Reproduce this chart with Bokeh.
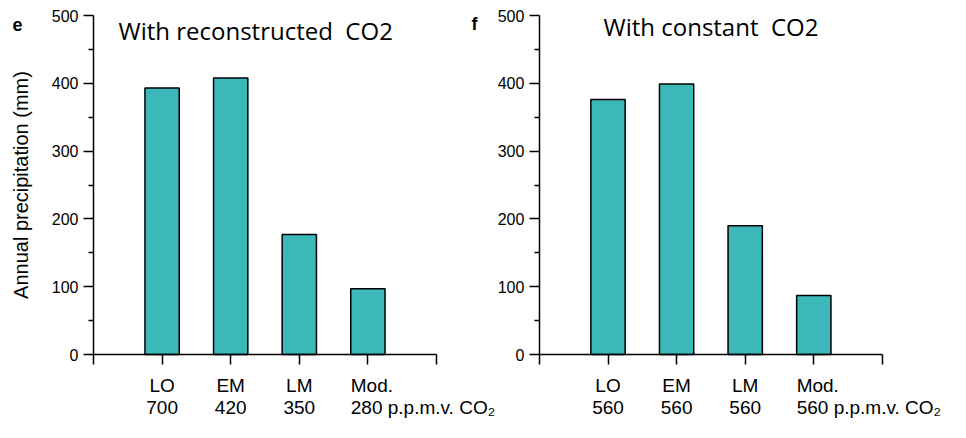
import math
from bokeh.plotting import figure
from bokeh.models import ColumnDataSource, Range1d, FixedTicker, LinearAxis
from bokeh.embed import file_html
from bokeh.resources import INLINE
from bokeh.core.properties import value

# ---- data ----
periods = ["LO", "EM", "LM", "Mod."]
precip_reconstructed = [393, 408, 177, 97]
precip_constant = [376, 399, 190, 87]
co2_reconstructed = [700, 420, 350, 280]
co2_constant = [560, 560, 560, 560]
co2_unit = "p.p.m.v. CO\u2082"
y_ticks = [0, 100, 200, 300, 400, 500]
y_minor_ticks = [50, 150, 250, 350, 450]
panel_letters = ["e", "f"]
panel_titles = ["With reconstructed\u00a0 CO2", "With constant\u00a0 CO2"]
y_label = "Annual precipitation (mm)"

# ---- layout / style ----
BAR_COLOR = "#3cb8bb"
LABEL_FONT = "Liberation Sans"
TITLE_FONT = "Open Sans"
W, H = 950, 422
PX_X = 68.6        # pixels per x unit
PX_Y = 0.678       # pixels per mm
LEFT0 = 93         # pixel column of the left panel's origin
ZERO_Y = 354       # pixel row of y = 0
X2 = 6.5           # data x of the right panel's origin


def xd(px):
    return (px - LEFT0) / PX_X


def yd(py):
    return (ZERO_Y - py) / PX_Y


p = figure(width=W, height=H, x_range=Range1d(xd(0), xd(W)),
           y_range=Range1d(yd(H), yd(0)), output_backend="svg",
           toolbar_location=None, x_axis_location=None, y_axis_location=None,
           min_border=0)
p.outline_line_color = None
p.grid.visible = False


def style_axis(ax):
    ax.axis_line_width = 1.5
    ax.axis_line_color = "black"
    ax.major_tick_line_width = 1.5
    ax.major_tick_line_color = "black"
    ax.minor_tick_line_width = 1.5
    ax.minor_tick_line_color = "black"
    ax.major_tick_in = 0
    ax.major_tick_out = 10
    ax.minor_tick_in = 0
    ax.minor_tick_out = 5


def add_panel(x0, values, co2, letter, title, title_px, letter_px):
    n = len(periods)
    x = [x0 + i + 1 for i in range(n)]
    align = ["center"] * (n - 1) + ["left"]
    lx = [xi if a == "center" else xi - 0.25 for xi, a in zip(x, align)]
    co2_text = [str(c) for c in co2]
    co2_text[-1] = co2_text[-1] + " " + co2_unit
    src = ColumnDataSource(dict(x=x, top=values, lx=lx, name=periods,
                                co2=co2_text, align=align))

    p.vbar(x="x", top="top", width=0.5, source=src, fill_color=BAR_COLOR,
           line_color="black", line_width=1.5)

    yax = LinearAxis(fixed_location=x0, bounds=(0, 500),
                     ticker=FixedTicker(ticks=y_ticks, minor_ticks=y_minor_ticks))
    style_axis(yax)
    yax.major_label_standoff = 5
    yax.major_label_text_font = LABEL_FONT
    yax.major_label_text_font_size = "16px"
    yax.major_label_text_color = "black"
    p.add_layout(yax, "left")

    xticks = [x0 + i for i in range(n + 2)]
    xax = LinearAxis(fixed_location=0, bounds=(x0, x0 + n + 1),
                     ticker=FixedTicker(ticks=xticks, minor_ticks=[]))
    style_axis(xax)
    xax.major_label_overrides = {t: "" for t in xticks}
    xax.major_label_text_font_size = "1px"
    p.add_layout(xax, "below")

    p.text(x="lx", y=yd(385), text="name", source=src, text_align="align",
           text_baseline="alphabetic", text_font=value(LABEL_FONT),
           text_font_size="19px", text_color="black")
    p.text(x="lx", y=yd(407), text="co2", source=src, text_align="align",
           text_baseline="alphabetic", text_font=value(LABEL_FONT),
           text_font_size="19px", text_color="black")

    p.text(x=[xd(title_px[0])], y=[yd(title_px[1])], text=[title],
           text_align="left", text_baseline="alphabetic",
           text_font=value(TITLE_FONT), text_font_size="24px",
           text_color="black")
    p.text(x=[xd(letter_px[0])], y=[yd(letter_px[1])], text=[letter],
           text_align="left", text_baseline="alphabetic",
           text_font=value(LABEL_FONT), text_font_size="18px",
           text_font_style="bold", text_color="black")


add_panel(0, precip_reconstructed, co2_reconstructed, panel_letters[0],
          panel_titles[0], (118, 30), (12, 24))
add_panel(X2, precip_constant, co2_constant, panel_letters[1],
          panel_titles[1], (603, 26), (471, 23))

# y-axis title of the left panel
p.text(x=[xd(20)], y=[250], text=[y_label], angle=math.pi / 2,
       text_align="center", text_baseline="middle",
       text_font=value(LABEL_FONT), text_font_size="20px", text_color="black")

open("out.html", "w").write(file_html(p, INLINE))
